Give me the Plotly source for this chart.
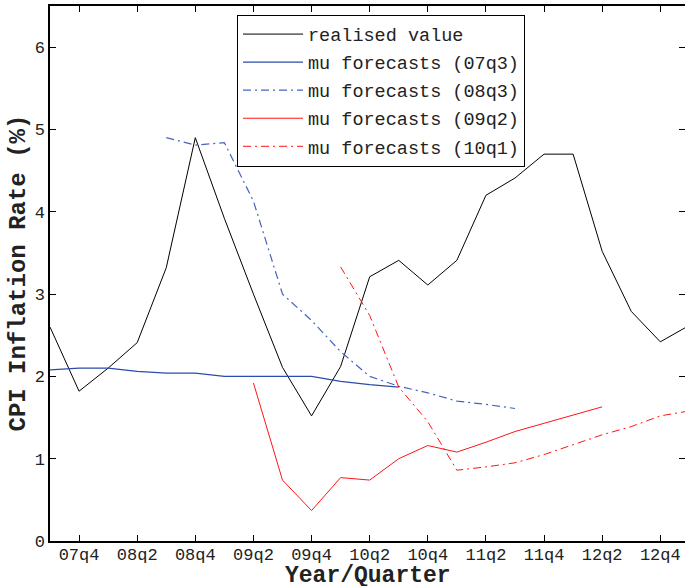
import plotly.graph_objects as go

quarters = ['07q3', '07q4', '08q1', '08q2', '08q3', '08q4', '09q1', '09q2', '09q3', '09q4',
            '10q1', '10q2', '10q3', '10q4', '11q1', '11q2', '11q3', '11q4', '12q1', '12q2',
            '12q3', '12q4', '13q1']

realised = [2.60, 1.82, 2.10, 2.41, 3.32, 4.90, 3.92, 3.00, 2.11, 1.52, 2.12, 3.21, 3.41,
            3.11, 3.41, 4.20, 4.41, 4.70, 4.70, 3.52, 2.79, 2.42, 2.62]

f07q3_q = quarters[0:13]
f07q3 = [2.08, 2.10, 2.10, 2.06, 2.04, 2.04, 2.00, 2.00, 2.00, 2.00, 1.94, 1.90, 1.87]

f08q3_q = quarters[4:17]
f08q3 = [4.90, 4.81, 4.84, 4.13, 3.00, 2.68, 2.30, 2.00, 1.88, 1.80, 1.70, 1.66, 1.61]

f09q2_q = quarters[7:20]
f09q2 = [1.92, 0.74, 0.37, 0.77, 0.74, 1.00, 1.16, 1.08, 1.20, 1.33, 1.43, 1.53, 1.63]

f10q1_q = quarters[10:23]
f10q1 = [3.33, 2.74, 1.87, 1.45, 0.86, 0.90, 0.95, 1.05, 1.17, 1.29, 1.39, 1.52, 1.58]

tick_labels = ['07q4', '08q2', '08q4', '09q2', '09q4', '10q2', '10q4', '11q2', '11q4', '12q2', '12q4']
x_title = 'Year/Quarter'
y_title = 'CPI Inflation Rate (%)'

idx = {q: i for i, q in enumerate(quarters)}
def pos(qs):
    return [idx[q] for q in qs]

DASHDOT = "8px,4px,2px,4px"
BLUE = "rgb(45,75,170)"
BLUE_L = "rgb(70,100,190)"
RED = "rgb(255,20,20)"

fig = go.Figure()
fig.add_trace(go.Scatter(x=pos(quarters), y=realised, mode='lines', name='realised value',
                         legendgroup='a', line=dict(color='black', width=1)))
fig.add_trace(go.Scatter(x=pos(f07q3_q), y=f07q3, mode='lines', name='mu forecasts (07q3)',
                         legendgroup='b', line=dict(color=BLUE, width=1.2)))
fig.add_trace(go.Scatter(x=pos(f08q3_q), y=f08q3, mode='lines', name='mu forecasts (08q3)',
                         legendgroup='c', line=dict(color=BLUE_L, width=1.2, dash=DASHDOT)))
fig.add_trace(go.Scatter(x=pos(f09q2_q), y=f09q2, mode='lines', name='mu forecasts (09q2)',
                         legendgroup='d', line=dict(color=RED, width=1)))
fig.add_trace(go.Scatter(x=pos(f10q1_q), y=f10q1, mode='lines', name='mu forecasts (10q1)',
                         legendgroup='e', line=dict(color=RED, width=1, dash=DASHDOT)))

FONT = "Liberation Mono"
fig.update_layout(
    width=685, height=586,
    margin=dict(l=50, r=0, t=6, b=45, autoexpand=False),
    paper_bgcolor='white', plot_bgcolor='white',
    font=dict(family=FONT, size=17, color='#222'),
    showlegend=True,
    legend=dict(x=0.2945, y=0.984, xanchor='left', yanchor='top',
                bgcolor='white', bordercolor='black', borderwidth=1, itemwidth=60,
                tracegroupgap=1,
                font=dict(family=FONT, size=18.5, color='#222')),
    xaxis=dict(range=[0, 21.85], tickvals=pos(tick_labels), ticktext=tick_labels,
               automargin=False, ticklabelstandoff=-3,
               ticks='inside', ticklen=6, tickcolor='black', showline=True, linecolor='black',
               linewidth=1.5, mirror='ticks', showgrid=False, zeroline=False),
    yaxis=dict(range=[0, 6.5], tickvals=[0, 1, 2, 3, 4, 5, 6], automargin=False,
               ticks='inside', ticklen=6, tickcolor='black', showline=True, linecolor='black',
               linewidth=1.5, mirror='ticks', showgrid=False, zeroline=False),
    annotations=[
        dict(text=x_title, xref='paper', yref='paper', x=0.5, y=-(576 - 541) / 535,
             xanchor='center', yanchor='middle', showarrow=False,
             font=dict(family=FONT, size=23, weight='bold', color='#222')),
        dict(text=y_title, xref='paper', yref='paper', x=-(50 - 18) / 635, y=0.5,
             xanchor='center', yanchor='middle', showarrow=False, textangle=-90,
             font=dict(family=FONT, size=24, weight='bold', color='#222')),
    ],
)

fig.write_html("out.html", config={'displayModeBar': False},
               post_script="document.body.style.margin='0px';")
